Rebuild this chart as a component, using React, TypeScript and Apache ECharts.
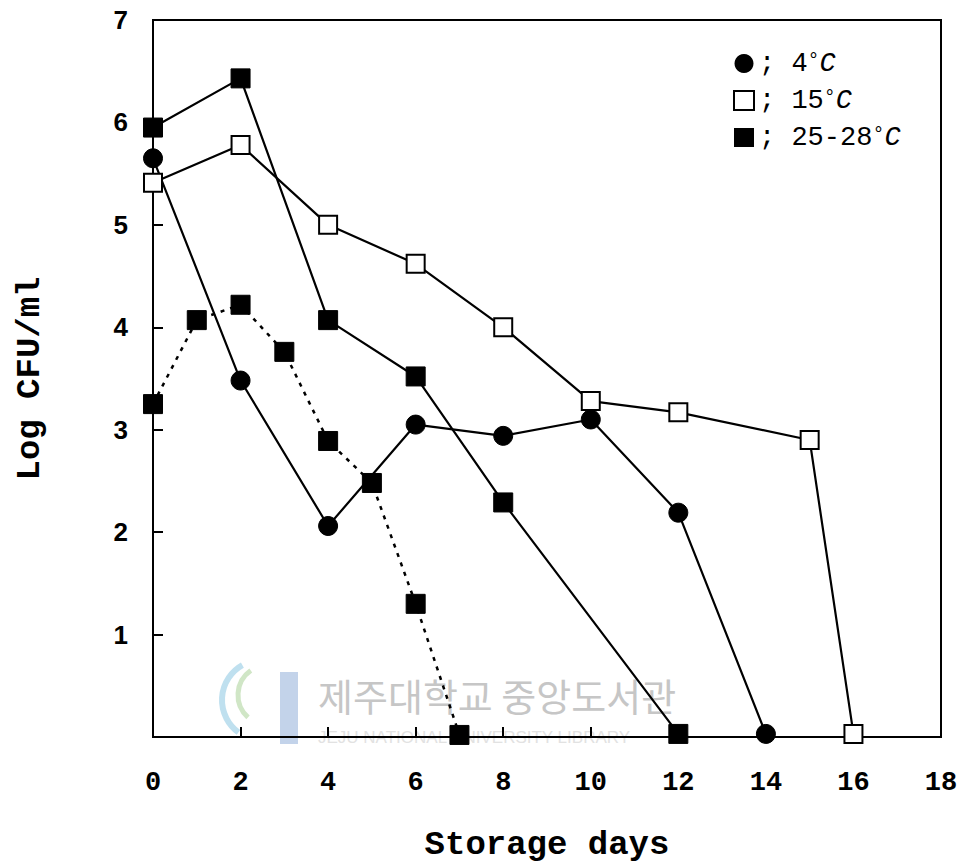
import React, { useEffect, useRef } from "react";
import * as echarts from "echarts";

const xTicks = [0, 2, 4, 6, 8, 10, 12, 14, 16, 18];
const yTicks = [1, 2, 3, 4, 5, 6, 7];

const days4C = [0, 2, 4, 6, 8, 10, 12, 14];
const log4C = [5.65, 3.48, 2.06, 3.05, 2.94, 3.1, 2.19, 0.03];

const days15C = [0, 2, 4, 6, 8, 10, 12, 15, 16];
const log15C = [5.41, 5.78, 5.0, 4.62, 4.0, 3.28, 3.17, 2.9, 0.03];

const days25C = [0, 2, 4, 6, 8, 12];
const log25C = [5.95, 6.43, 4.07, 3.52, 2.29, 0.03];

const days25Cb = [0, 1, 2, 3, 4, 5, 6, 7];
const log25Cb = [3.25, 4.07, 4.22, 3.76, 2.89, 2.48, 1.3, 0.02];

const legendNames = ["4", "15", "25-28"];

const pair = (xs: number[], ys: number[]) => xs.map((x, i) => [x, ys[i]]);

export default function App() {
  const ref = useRef<HTMLDivElement>(null);
  useEffect(() => {
    if (!ref.current) return;
    document.body.style.margin = "0";
    const chart = echarts.init(ref.current, null, { renderer: "svg" });
    const mono = "'Liberation Mono', 'DejaVu Sans Mono', monospace";
    const lineBase = { color: "#000", width: 2.2 };
    chart.setOption({
      animation: false,
      backgroundColor: "#fff",
      grid: {
        left: 153,
        right: 22,
        top: 20,
        bottom: 130,
        show: true,
        borderColor: "#000",
        borderWidth: 2,
        backgroundColor: "transparent",
        outerBoundsMode: "none",
        containLabel: false,
      },
      graphic: [
        {
          type: "group",
          silent: true,
          z: -1,
          children: [
            { type: "rect", shape: { x: 280, y: 672, width: 18, height: 72 }, style: { fill: "#c3d3ea" } },
            { type: "arc", shape: { cx: 262, cy: 700, r: 40, startAngle: 2.2, endAngle: 4.2 }, style: { stroke: "#bfe0ef", lineWidth: 6, fill: "none" } },
            { type: "arc", shape: { cx: 268, cy: 695, r: 30, startAngle: 2.3, endAngle: 4.1 }, style: { stroke: "#d0e6c6", lineWidth: 5, fill: "none" } },
            {
              type: "text",
              x: 318,
              y: 694,
              style: {
                text: "제주대학교 중앙도서관",
                font: "38px 'Noto Sans CJK KR'",
                fill: "#c6c6c6",
                verticalAlign: "middle",
              },
            },
            {
              type: "text",
              x: 318,
              y: 737,
              style: {
                text: "JEJU NATIONAL UNIVERSITY LIBRARY",
                font: "17px 'Liberation Sans'",
                fill: "#e2e2e2",
                verticalAlign: "middle",
              },
            },
          ],
        },
      ],
      legend: {
        orient: "vertical",
        left: 728,
        top: 45,
        itemWidth: 20,
        itemHeight: 19,
        itemGap: 10,
        data: [
          { name: legendNames[0], icon: "circle" },
          { name: legendNames[1], icon: "rect" },
          { name: legendNames[2], icon: "rect" },
        ],
        formatter: (n: string) => `{t|; ${n}}{d|°}{c|C}`,
        textStyle: {
          rich: {
            t: { fontFamily: mono, fontSize: 27, lineHeight: 27, color: "#000" },
            d: { fontFamily: mono, fontSize: 20, lineHeight: 27, color: "#000", verticalAlign: "top", padding: [0, 0, 6, 0] },
            c: { fontFamily: mono, fontSize: 27, lineHeight: 27, fontStyle: "italic", color: "#000" },
          },
        },
      },
      xAxis: {
        type: "value",
        min: 0,
        max: 18,
        interval: 2,
        name: "Storage days",
        nameLocation: "middle",
        nameGap: 91,
        nameTextStyle: { fontFamily: mono, fontWeight: "bold", fontSize: 34, color: "#000" },
        axisLine: { show: true, onZero: false, lineStyle: { color: "#000", width: 2 } },
        axisTick: { show: true, inside: true, length: 10, lineStyle: { color: "#000", width: 2 } },
        axisLabel: {
          margin: 32,
          fontFamily: mono,
          fontWeight: "bold",
          fontSize: 27,
          color: "#000",
          formatter: (v: number) => (xTicks.includes(v) ? String(v) : ""),
        },
        splitLine: { show: false },
      },
      yAxis: {
        type: "value",
        min: 0,
        max: 7,
        interval: 1,
        name: "Log CFU/ml",
        nameLocation: "middle",
        nameGap: 106,
        nameRotate: 90,
        nameTextStyle: { fontFamily: mono, fontWeight: "bold", fontSize: 34, color: "#000" },
        axisLine: { show: true, onZero: false, lineStyle: { color: "#000", width: 2 } },
        axisTick: { show: true, inside: true, length: 10, lineStyle: { color: "#000", width: 2 } },
        axisLabel: {
          margin: 25,
          fontFamily: "'Liberation Sans', Arial, sans-serif",
          fontWeight: "bold",
          fontSize: 26,
          color: "#000",
          formatter: (v: number) => (yTicks.includes(v) ? String(v) : ""),
        },
        splitLine: { show: false },
      },
      series: [
        {
          name: legendNames[0],
          type: "line",
          data: pair(days4C, log4C),
          symbol: "circle",
          symbolSize: 19,
          lineStyle: { ...lineBase },
          itemStyle: { color: "#000", borderColor: "#000" },
          z: 3,
        },
        {
          name: legendNames[1],
          type: "line",
          data: pair(days15C, log15C),
          symbol: "rect",
          symbolSize: 18,
          lineStyle: { ...lineBase },
          itemStyle: { color: "#fff", borderColor: "#000", borderWidth: 2 },
          z: 4,
        },
        {
          name: legendNames[2],
          type: "line",
          data: pair(days25C, log25C),
          symbol: "rect",
          symbolSize: 19,
          lineStyle: { ...lineBase },
          itemStyle: { color: "#000", borderColor: "#000" },
          z: 5,
        },
        {
          name: legendNames[2] + " ",
          type: "line",
          data: pair(days25Cb, log25Cb),
          symbol: "rect",
          symbolSize: 19,
          lineStyle: { color: "#000", width: 2.5, type: [4, 6] },
          itemStyle: { color: "#000", borderColor: "#000" },
          z: 5,
        },
      ],
    });
    return () => chart.dispose();
  }, []);
  return <div ref={ref} style={{ width: 963, height: 867 }} />;
}
